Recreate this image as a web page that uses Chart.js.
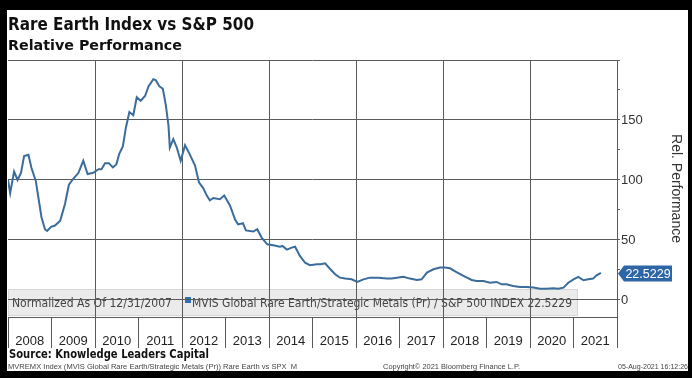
<!DOCTYPE html>
<html><head><meta charset="utf-8">
<script src="https://cdn.jsdelivr.net/npm/chart.js@4/dist/chart.umd.min.js"></script>
<style>html,body{margin:0;padding:0;background:#000;overflow:hidden}#wrap{width:692px;height:378px;position:relative}</style>
</head><body><div id="wrap"><canvas id="c" width="692" height="378"></canvas></div>
<script>
// ---- data ----
const times = [2008.00,2008.05,2008.14,2008.22,2008.30,2008.37,2008.47,2008.54,2008.64,2008.70,2008.77,2008.85,2008.90,2008.99,
2009.08,2009.20,2009.31,2009.40,2009.50,2009.62,2009.73,2009.83,2009.96,
2010.08,2010.15,2010.23,2010.32,2010.41,2010.49,2010.56,2010.64,2010.71,2010.79,2010.88,2010.96,
2011.05,2011.15,2011.23,2011.34,2011.40,2011.48,2011.56,2011.63,2011.69,2011.72,2011.80,2011.88,2011.97,
2012.07,2012.17,2012.30,2012.39,2012.49,2012.57,2012.64,2012.72,2012.87,2012.97,
2013.10,2013.22,2013.29,2013.40,2013.47,2013.64,2013.73,2013.83,2013.96,
2014.10,2014.25,2014.31,2014.41,2014.52,2014.60,2014.71,2014.83,2014.94,
2015.10,2015.19,2015.29,2015.40,2015.52,2015.63,2015.75,2015.90,
2016.03,2016.17,2016.32,2016.51,2016.71,2016.82,2016.94,
2017.09,2017.24,2017.40,2017.51,2017.63,2017.78,2017.93,
2018.05,2018.16,2018.31,2018.47,2018.66,2018.77,2018.93,
2019.08,2019.23,2019.35,2019.46,2019.61,2019.77,2019.92,
2020.08,2020.23,2020.38,2020.54,2020.65,2020.77,2020.88,
2021.00,2021.11,2021.23,2021.34,2021.45,2021.53,2021.63];
const relPerf = [100,89,107,100,106,120,121,110,99,85,69,59,57.5,61,
62,66,80,96,101,106,116,105,106,
109,109,114,114,110.5,113,122,128,143.6,156.7,154,169,
166,170,178,184,183,178,176,162,145,127,134,127,116,
129,122,112,98,93,87,83,85,84,87,
79,67,63,64,58,57,59,52,46.4,
45.6,44.4,45,42,43.6,44.4,36.7,31,29,
29.7,29.7,30.6,26,21.4,18.6,17.8,17.2,
15,17.2,18.6,18.6,17.8,17.8,18.6,
19.4,17.8,16.7,17.2,22.8,25.6,27,
27,26.4,23.3,20,16.7,15.8,15.8,
14.4,15,13,13,11.7,10.8,10.8,
10.3,9.4,9.4,9.7,9.4,10.3,14.4,
17.2,19.2,16.4,17.2,17.8,20.6,22.5229];
const yearTicks = [2008,2009,2010,2011,2012,2013,2014,2015,2016,2017,2018,2019,2020,2021,2022];
const yearLabels = ['2008','2009','2010','2011','2012','2013','2014','2015','2016','2017','2018','2019','2020','2021'];
const gridYears = [2010,2012,2014,2016,2018,2020];
const yTicks = [0,25,50,75,100,125,150,175,200];
const yLabeled = [0,50,100,150];
const lastLabel = '22.5229';
const titleText = 'Rare Earth Index vs S&P 500';
const subtitleText = 'Relative Performance';
const legendNote = 'Normalized As Of 12/31/2007';
const legendSeries = 'MVIS Global Rare Earth/Strategic Metals (Pr) / S&P 500 INDEX 22.5229';
const axisTitle = 'Rel. Performance';
const sourceText = 'Source: Knowledge Leaders Capital';
const footLeft = 'MVREMX Index (MVIS Global Rare Earth/Strategic Metals (Pr)) Rare Earth vs SPX  M';
const footMid = 'Copyright\u00A9 2021 Bloomberg Finance L.P.';
const footRight = '05-Aug-2021 16:12:26';

const GRID = '#5a5a5a';
const LINE = '#3a6c9c';
const TAG = '#2d66a6';

function fitText(ctx, str, x, y, font, width, color, align) {
  ctx.save();
  ctx.font = font; ctx.fillStyle = color; ctx.textBaseline = 'alphabetic';
  ctx.textAlign = align || 'left';
  const w = ctx.measureText(str).width;
  ctx.translate(x, y);
  if (width) ctx.scale(width / w, 1);
  ctx.fillText(str, 0, 0);
  ctx.restore();
}

const deco = {
  id: 'deco',
  beforeDraw(chart) {
    const ctx = chart.ctx;
    ctx.save();
    ctx.fillStyle = '#000'; ctx.fillRect(0, 0, 692, 378);
    ctx.fillStyle = '#fff'; ctx.fillRect(7, 10, 681, 361);
    // legend box
    ctx.fillStyle = '#ebebeb'; ctx.fillRect(8, 289, 570, 27);
    ctx.strokeStyle = '#d6d6d6'; ctx.lineWidth = 1; ctx.strokeRect(8.5, 289.5, 569, 26);
    ctx.restore();
    fitText(ctx, legendNote, 12, 307, '11.5px "DejaVu Sans"', 160, '#444');
    ctx.save(); ctx.fillStyle = '#2f6db5'; ctx.fillRect(185, 297, 6, 6); ctx.restore();
    fitText(ctx, legendSeries, 192, 307, '11.5px "DejaVu Sans"', 380, '#444');
  },
  afterDraw(chart) {
    const ctx = chart.ctx;
    fitText(ctx, titleText, 8, 30, 'bold 18px "DejaVu Sans"', 246, '#111');
    fitText(ctx, subtitleText, 8, 50, 'bold 14px "DejaVu Sans"', 174, '#111');
    fitText(ctx, sourceText, 9, 358, 'bold 12px "DejaVu Sans"', 200, '#111');
    fitText(ctx, footLeft, 8, 369, '7px "Liberation Sans"', 289, '#444');
    fitText(ctx, footMid, 383, 369, '7px "Liberation Sans"', 137, '#444');
    fitText(ctx, footRight, 688, 369, '7px "Liberation Sans"', 70, '#444', 'right');
    // last value tag
    const ys = chart.scales.y;
    const y = Math.round(ys.getPixelForValue(relPerf[relPerf.length - 1])) + 0.5;
    const x0 = ys.left + 1;
    ctx.save();
    ctx.fillStyle = TAG;
    ctx.beginPath();
    ctx.moveTo(x0, y); ctx.lineTo(x0 + 6, y - 8); ctx.lineTo(x0 + 54, y - 8);
    ctx.lineTo(x0 + 54, y + 8); ctx.lineTo(x0 + 6, y + 8); ctx.closePath(); ctx.fill();
    ctx.fillStyle = '#fff'; ctx.font = '12.5px "Liberation Sans"';
    ctx.textAlign = 'center'; ctx.textBaseline = 'middle';
    ctx.fillText(lastLabel, x0 + 30, y + 1);
    ctx.restore();
  }
};

new Chart(document.getElementById('c'), {
  type: 'line',
  data: { datasets: [{ data: times.map((t, i) => ({ x: t, y: relPerf[i] })), borderColor: LINE, borderWidth: 2, pointRadius: 0, tension: 0, fill: false }] },
  options: {
    responsive: false, animation: false, devicePixelRatio: 1,
    layout: { padding: { left: 8, top: 60, right: 0, bottom: 0 } },
    plugins: { legend: { display: false }, tooltip: { enabled: false } },
    scales: {
      x: {
        type: 'linear', position: 'bottom', min: 2008, max: 2022,
        afterBuildTicks: s => { s.ticks = yearTicks.map(v => ({ value: v })); },
        afterFit: s => { s.height = 61; },
        grid: {
          color: c => (c.tick && gridYears.includes(c.tick.value)) ? GRID : 'rgba(0,0,0,0)',
          tickColor: GRID, tickLength: 31, lineWidth: 1
        },
        border: { display: true, color: GRID },
        ticks: {
          callback: v => yearLabels[v - 2008] || '',
          font: { family: 'Liberation Sans', size: 13 }, color: '#222',
          padding: -14, labelOffset: 21.75, maxRotation: 0, autoSkip: false
        }
      },
      y: {
        position: 'right', min: -14.2, max: 200,
        afterBuildTicks: s => { s.ticks = yTicks.map(v => ({ value: v })); },
        afterFit: s => { s.width = 75; },
        grid: {
          color: c => (c.tick && c.tick.value % 50 === 0) ? GRID : 'rgba(0,0,0,0)',
          tickColor: GRID, tickLength: 3
        },
        border: { display: true, color: GRID },
        ticks: {
          callback: v => yLabeled.includes(v) ? String(v) : '',
          padding: 1, font: { family: 'Liberation Sans', size: 13 }, color: '#333'
        },
        title: { display: true, text: axisTitle, font: { family: 'Liberation Sans', size: 14 }, color: '#333', padding: { top: 8, bottom: 0 } }
      }
    }
  },
  plugins: [deco]
});
</script></body></html>
